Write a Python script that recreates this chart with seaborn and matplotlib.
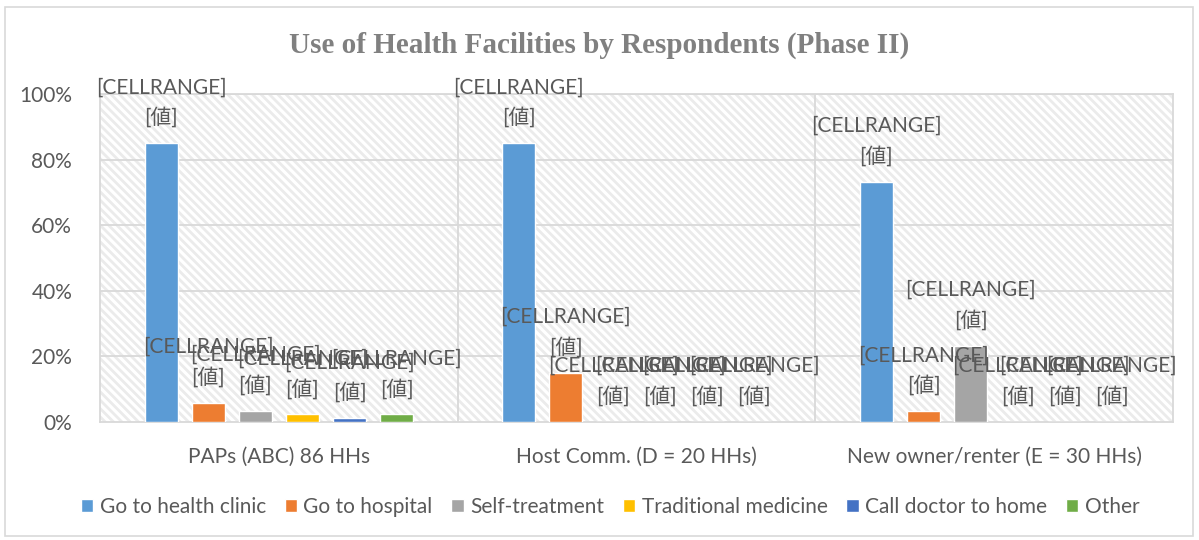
import pandas as pd
import numpy as np
import seaborn as sns
import matplotlib.pyplot as plt
from matplotlib.patches import Rectangle
from matplotlib.ticker import PercentFormatter

# data (percent of households)
groups = ['PAPs (ABC) 86 HHs', 'Host Comm. (D = 20 HHs)', 'New owner/renter (E = 30 HHs)']
options = ['Go to health clinic', 'Go to hospital', 'Self-treatment',
           'Traditional medicine', 'Call doctor to home', 'Other']
paps = [85.0, 5.8, 3.5, 2.3, 1.2, 2.3]
host = [85.0, 15.0, 0.0, 0.0, 0.0, 0.0]
renter = [73.3, 3.3, 23.3, 0.0, 0.0, 0.0]
colors = ['#5B9BD5', '#ED7D31', '#A5A5A5', '#FFC000', '#4472C4', '#70AD47']

rows = []
for g, vals in zip(groups, [paps, host, renter]):
    for o, v in zip(options, vals):
        rows.append({'group': g, 'option': o, 'value': v})
df = pd.DataFrame(rows)

sns.set_style('white')
plt.rcParams['font.family'] = ['Lato', 'Noto Sans CJK JP', 'DejaVu Sans']
plt.rcParams['hatch.linewidth'] = 2.0
txt = '#595959'
grid = '#d9d9d9'

fig = plt.figure(figsize=(11.99, 5.4), dpi=100)
ax = fig.add_axes([100 / 1199, 1 - 422 / 540, 1073 / 1199, 328 / 540])

# hatched background of the plot area
ax.add_patch(Rectangle((0, 0), 1, 1, transform=ax.transAxes, facecolor='white',
                       edgecolor='#ebebeb', hatch='\\\\\\\\', linewidth=0, zorder=0))

sns.barplot(data=df, x='group', y='value', hue='option', hue_order=options,
            order=groups, palette=colors, width=0.79, gap=0.3, ax=ax,
            saturation=1, zorder=3, legend=True)

ax.set_ylim(0, 100)
ax.set_xlim(-0.5, 2.5)
ax.set_yticks(range(0, 101, 20))
ax.yaxis.set_major_formatter(PercentFormatter(decimals=0))
for y in range(20, 101, 20):
    ax.axhline(y, color=grid, lw=1.3, zorder=1)
for x in [0.5, 1.5]:
    ax.axvline(x, color=grid, lw=1.3, zorder=1)
for s in ax.spines.values():
    s.set_color(grid)
    s.set_linewidth(1.3)
ax.tick_params(axis='both', length=0, labelsize=15, labelcolor=txt)
ax.tick_params(axis='x', pad=18)
ax.tick_params(axis='y', pad=20)
ax.set_xlabel('')
ax.set_ylabel('')

# data labels (unresolved Excel placeholders)
for cont in ax.containers:
    for bar in cont:
        x = bar.get_x() + bar.get_width() / 2
        h = bar.get_height()
        ax.annotate('[値]', (x, h), xytext=(0, 11), textcoords='offset points',
                    ha='center', va='bottom', fontsize=15, color=txt, zorder=5)
        ax.annotate('[CELLRANGE]', (x, h), xytext=(0, 33), textcoords='offset points',
                    ha='center', va='bottom', fontsize=15, color=txt, zorder=5)

ax.get_legend().remove()
handles, labels = ax.get_legend_handles_labels()
fig.legend(handles, labels, loc='center', bbox_to_anchor=(610 / 1199, 1 - 507 / 540),
           ncol=6, frameon=False, fontsize=15, handlelength=0.6, handleheight=0.6,
           handletextpad=0.3, columnspacing=0.9, labelcolor=txt)

fig.text(0.5, 1 - 45 / 540, 'Use of Health Facilities by Respondents (Phase II)',
         ha='center', va='center', fontsize=21, fontweight='bold',
         family='Liberation Serif', color='#808080')

fig.patches.append(Rectangle((5 / 1199, 4 / 540), 1188 / 1199, 529 / 540,
                             transform=fig.transFigure, fill=False,
                             edgecolor=grid, linewidth=1.2))

fig.savefig('out.png', dpi=100)
